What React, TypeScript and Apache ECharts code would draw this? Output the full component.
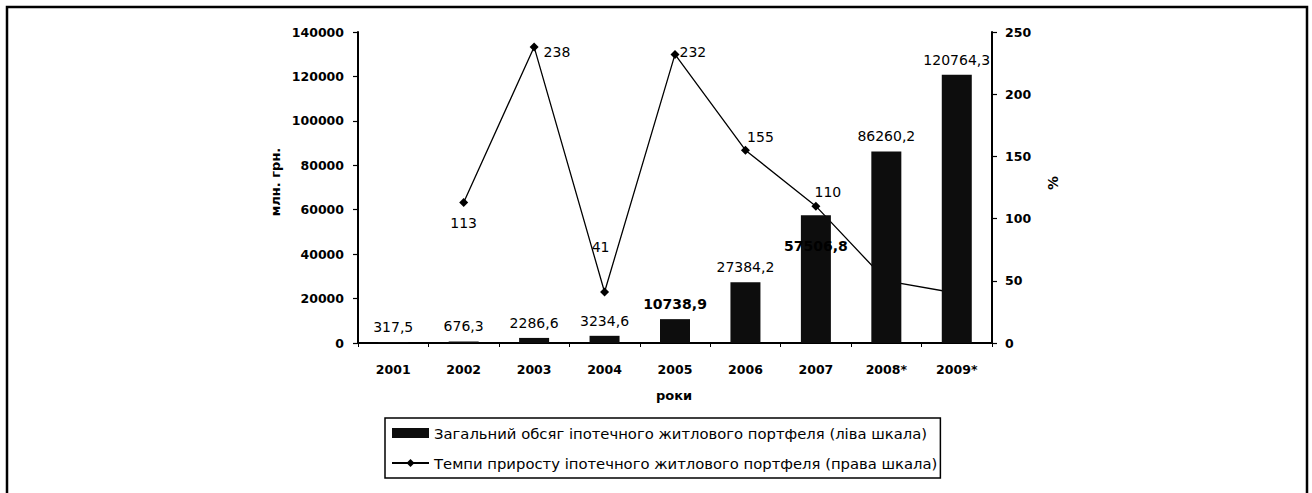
import React, { useEffect, useRef } from "react";
import * as echarts from "echarts";

const years = ["2001", "2002", "2003", "2004", "2005", "2006", "2007", "2008*", "2009*"];
const portfolio = [317.5, 676.3, 2286.6, 3234.6, 10738.9, 27384.2, 57506.8, 86260.2, 120764.3];
const growth: (number | null)[] = [null, 113, 238, 41, 232, 155, 110, 50, 40];
const leftTicks = { min: 0, max: 140000, interval: 20000 };
const rightTicks = { min: 0, max: 250, interval: 50 };
const seriesNames = [
  "Загальний обсяг іпотечного житлового портфеля (ліва шкала)",
  "Темпи приросту іпотечного житлового портфеля (права шкала)",
];
const axisTitles = { left: "млн. грн.", right: "%", bottom: "роки" };

const FONT = "DejaVu Sans";

// label placement for line points (style only)
const lineLabelStyle: Record<number, any> = {
  1: { position: "bottom", distance: 9 },
  2: { position: "right", distance: 5, offset: [0, 5] },
  3: { position: "top", distance: 33, offset: [-4, 0] },
  4: { position: "right", distance: 0, offset: [0, -2] },
  5: { position: "top", distance: 2, offset: [15, 0] },
  6: { position: "top", distance: 3, offset: [12, 0] },
  7: { show: false },
  8: { show: false },
};

export default function App() {
  const ref = useRef<HTMLDivElement>(null);
  useEffect(() => {
    if (!ref.current) return;
    const chart = echarts.init(ref.current, null, { renderer: "svg" });
    const fmt = (v: number) => String(v).replace(".", ",");
    const barData = portfolio.map((v, i) => {
      if (i === 6) {
        return {
          value: v,
          label: {
            position: ["50%", 31],
            align: "center",
            verticalAlign: "middle",
            fontWeight: "bold",
          },
        };
      }
      if (i === 4) return { value: v, label: { fontWeight: "bold" } };
      return { value: v };
    });
    const lineData = growth.map((v, i) => ({
      value: v,
      label: lineLabelStyle[i] || {},
    }));
    chart.setOption({
      animation: false,
      backgroundColor: "#fff",
      textStyle: { fontFamily: FONT },
      grid: { left: 358, right: 320, top: 32, bottom: 150, containLabel: false },
      legend: {
        orient: "vertical",
        left: 385,
        top: 418,
        padding: [7, 3, 7, 6],
        itemGap: 14,
        itemWidth: 37,
        itemHeight: 10,
        borderColor: "#000",
        borderWidth: 1.5,
        textStyle: { fontFamily: FONT, fontSize: 14.8, color: "#000", lineHeight: 16 },
        data: [
          { name: seriesNames[0], icon: "rect" },
          { name: seriesNames[1] },
        ],
      },
      xAxis: {
        type: "category",
        data: years,
        axisLine: { lineStyle: { color: "#000", width: 2 } },
        axisTick: { show: true, length: 4, lineStyle: { color: "#000", width: 1 } },
        axisLabel: {
          color: "#000",
          fontFamily: FONT,
          fontWeight: "bold",
          fontSize: 12.5,
          margin: 20,
        },
        splitLine: { show: false },
      },
      yAxis: [
        {
          type: "value",
          position: "left",
          ...leftTicks,
          axisLine: { show: true, lineStyle: { color: "#000", width: 2 } },
          axisTick: { show: true, length: 5, lineStyle: { color: "#000", width: 1.2 } },
          axisLabel: {
            color: "#000",
            fontFamily: FONT,
            fontWeight: "bold",
            fontSize: 12.5,
            margin: 14,
            formatter: (v: number) => String(v),
          },
          splitLine: { show: false },
        },
        {
          type: "value",
          position: "right",
          ...rightTicks,
          axisLine: { show: true, lineStyle: { color: "#000", width: 2 } },
          axisTick: { show: true, length: 5, lineStyle: { color: "#000", width: 1.2 } },
          axisLabel: {
            color: "#000",
            fontFamily: FONT,
            fontWeight: "bold",
            fontSize: 12.5,
            margin: 13,
            formatter: (v: number) => String(v),
          },
          splitLine: { show: false },
        },
      ],
      series: [
        {
          name: seriesNames[1],
          type: "line",
          yAxisIndex: 1,
          z: 1,
          data: lineData,
          symbol: "diamond",
          symbolSize: 9,
          connectNulls: false,
          lineStyle: { color: "#000", width: 1.3 },
          itemStyle: { color: "#000" },
          label: {
            show: true,
            color: "#000",
            fontFamily: FONT,
            fontSize: 14,
          },
        },
        {
          name: seriesNames[0],
          type: "bar",
          yAxisIndex: 0,
          z: 3,
          barWidth: 30,
          data: barData,
          itemStyle: { color: "#0d0d0d" },
          label: {
            show: true,
            position: "top",
            distance: 8,
            color: "#000",
            fontFamily: FONT,
            fontSize: 14,
            formatter: (p: any) => fmt(p.value),
          },
        },
      ],
      graphic: [
        {
          type: "rect",
          silent: true,
          shape: { x: 7, y: 7, width: 1300, height: 520 },
          style: { fill: "none", stroke: "#000", lineWidth: 2.5 },
        },
        {
          type: "text",
          x: 275,
          y: 182,
          rotation: Math.PI / 2,
          style: {
            text: axisTitles.left,
            fontFamily: FONT,
            fontWeight: "bold",
            fontSize: 13,
            fill: "#000",
            align: "center",
            verticalAlign: "middle",
          },
        },
        {
          type: "text",
          x: 1053,
          y: 183,
          rotation: Math.PI / 2,
          style: {
            text: axisTitles.right,
            fontFamily: FONT,
            fontWeight: "bold",
            fontSize: 14,
            fill: "#000",
            align: "center",
            verticalAlign: "middle",
          },
        },
        {
          type: "text",
          x: 674,
          y: 395,
          style: {
            text: axisTitles.bottom,
            fontFamily: FONT,
            fontWeight: "bold",
            fontSize: 13,
            fill: "#000",
            align: "center",
            verticalAlign: "middle",
          },
        },
      ],
    });
    return () => chart.dispose();
  }, []);
  return (
    <div
      ref={ref}
      style={{ position: "fixed", left: 0, top: 0, width: 1312, height: 493, background: "#fff" }}
    />
  );
}
